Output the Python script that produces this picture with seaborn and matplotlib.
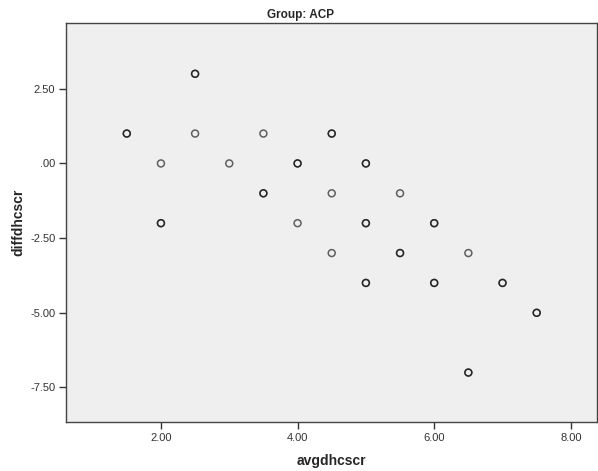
import matplotlib
matplotlib.use("Agg")
import matplotlib.pyplot as plt
import seaborn as sns
import pandas as pd
from matplotlib.ticker import FuncFormatter

# data (duplicates reproduce the darker overplotted markers)
avgdhcscr = [1.5, 1.5, 2.0, 2.0, 2.0, 2.5, 2.5, 2.5, 3.0, 3.5, 3.5, 3.5,
             4.0, 4.0, 4.0, 4.5, 4.5, 4.5, 4.5, 5.0, 5.0, 5.0, 5.0, 5.0, 5.0,
             5.5, 5.5, 5.5, 6.0, 6.0, 6.0, 6.0, 6.5, 6.5, 6.5, 7.0, 7.0, 7.5, 7.5]
diffdhcscr = [1.0, 1.0, 0.0, -2.0, -2.0, 3.0, 3.0, 1.0, 0.0, 1.0, -1.0, -1.0,
              0.0, 0.0, -2.0, 1.0, 1.0, -1.0, -3.0, 0.0, 0.0, -2.0, -2.0, -4.0, -4.0,
              -1.0, -3.0, -3.0, -2.0, -2.0, -4.0, -4.0, -3.0, -7.0, -7.0, -4.0, -4.0, -5.0, -5.0]
x_ticks = [2.0, 4.0, 6.0, 8.0]
y_ticks = [2.5, 0.0, -2.5, -5.0, -7.5]

df = pd.DataFrame({"avgdhcscr": avgdhcscr, "diffdhcscr": diffdhcscr})

sns.set_style("white")
plt.rcParams["font.family"] = ["Liberation Sans", "DejaVu Sans"]

fig = plt.figure(figsize=(5.98, 4.71), dpi=100)
ax = fig.add_axes([0.111, 0.105, 0.887, 0.8455])
ax.set_facecolor("#efefef")

sns.scatterplot(data=df, x="avgdhcscr", y="diffdhcscr", ax=ax,
                marker="o", s=25, facecolor="none", edgecolor="black",
                linewidth=1.1, alpha=0.6)

ax.set_xlim(0.616, 8.38)
ax.set_ylim(-8.64, 4.69)
ax.set_xticks(x_ticks)
ax.set_yticks(y_ticks)

def fmt(v, pos):
    s = f"{v:.2f}"
    if s.startswith("0."):
        s = s[1:]
    if s == "-0.00":
        s = ".00"
    return s

ax.xaxis.set_major_formatter(FuncFormatter(fmt))
ax.yaxis.set_major_formatter(FuncFormatter(fmt))
ax.tick_params(axis="both", direction="out", length=5, width=1, color="#333333",
               labelsize=8, labelcolor="#333333", bottom=True, left=True, pad=3)

for sp in ax.spines.values():
    sp.set_color("#444444")
    sp.set_linewidth(1.0)

ax.set_xlabel("avgdhcscr", fontsize=10, fontweight="bold", labelpad=8)
ax.set_ylabel("diffdhcscr", fontsize=10, fontweight="bold", labelpad=3)
fig.text(0.503, 0.968, "Group: ACP", ha="center", va="center",
         fontsize=8.5, fontweight="bold")

fig.savefig("out.png", dpi=100, facecolor="white")
